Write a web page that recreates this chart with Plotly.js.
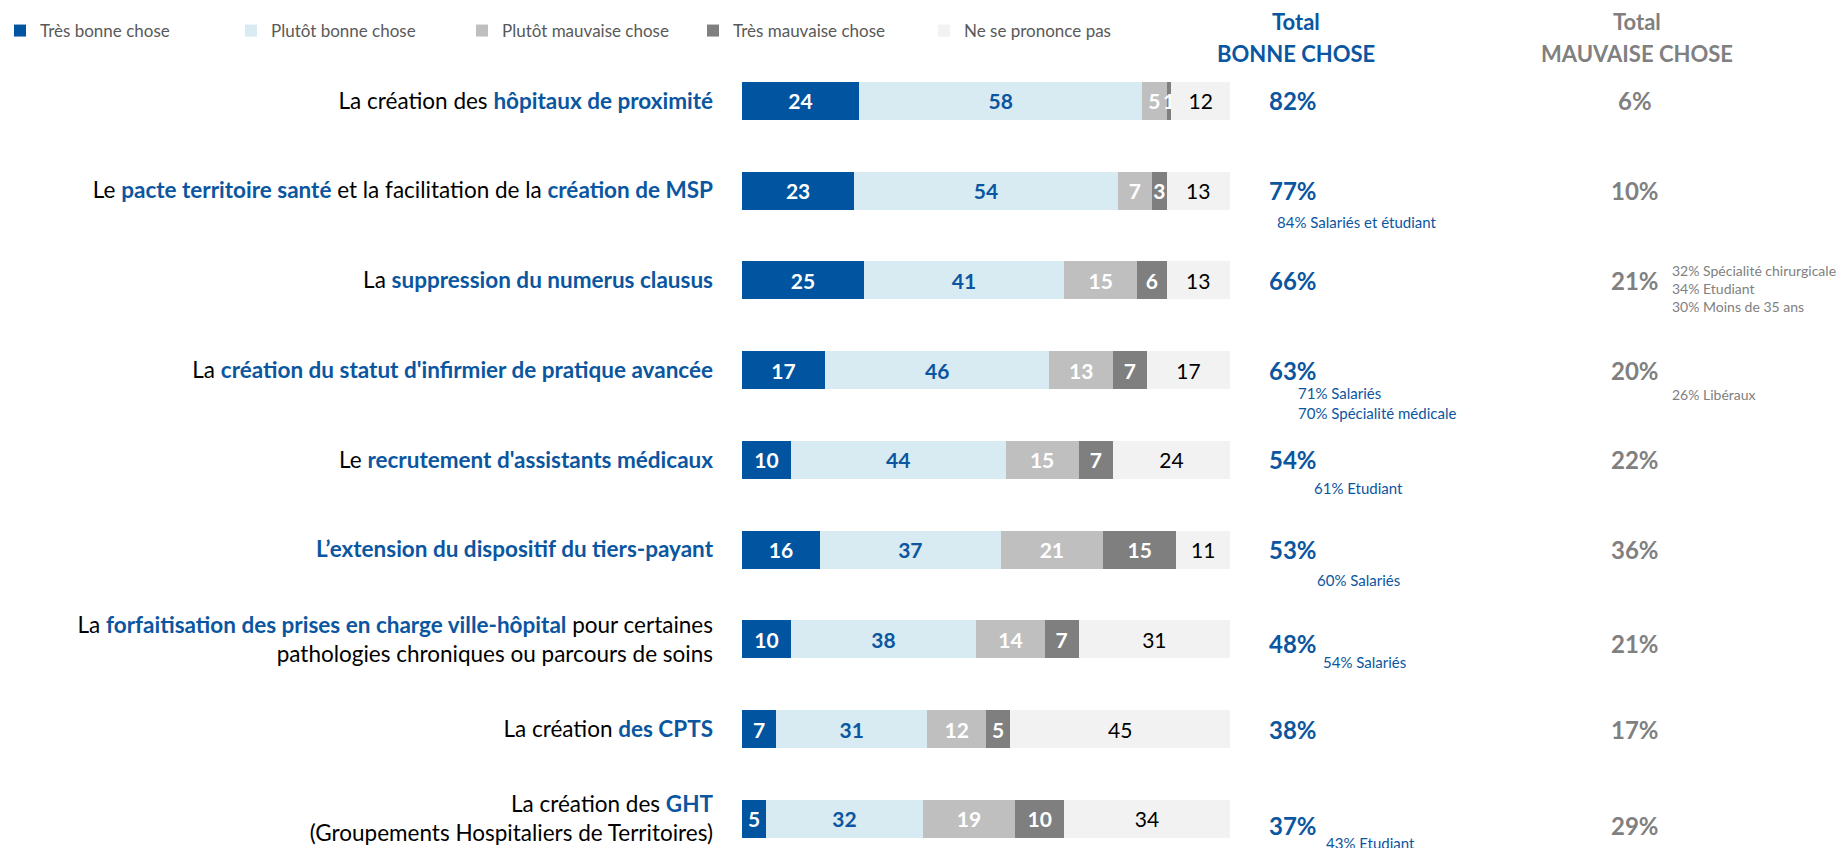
<!DOCTYPE html>
<html>
<head>
<meta charset="utf-8">
<script src="https://cdn.plot.ly/plotly-3.0.1.min.js"></script>
<style>
  html, body { margin: 0; padding: 0; background: #fff; }
  #myDiv { width: 1844px; height: 848px; }
</style>
</head>
<body>
<div id="myDiv"></div>
<script>
const BLUE = '#0B56A0';
const GREY = '#808080';

const categories = [
    'hôpitaux de proximité', 'pacte territoire santé', 'numerus clausus',
    'infirmier de pratique avancée', 'assistants médicaux', 'tiers-payant',
    'forfaitisation', 'CPTS', 'GHT'
];

const b = (s) => `<b><span style="color:${BLUE}">${s}</span></b>`;
const rowLabels = [
    'La création des ' + b('hôpitaux de proximité'),
    'Le ' + b('pacte territoire santé') + ' et la facilitation de la ' + b('création de MSP'),
    'La ' + b('suppression du numerus clausus'),
    'La ' + b("création du statut d'infirmier de pratique avancée"),
    'Le ' + b("recrutement d'assistants médicaux"),
    b('L’extension du dispositif du tiers-payant'),
    'La ' + b('forfaitisation des prises en charge ville-hôpital') + ' pour certaines<br>pathologies chroniques ou parcours de soins',
    'La création ' + b('des CPTS'),
    'La création des ' + b('GHT') + '<br>(Groupements Hospitaliers de Territoires)'
];

const seriesNames = ['Très bonne chose', 'Plutôt bonne chose', 'Plutôt mauvaise chose', 'Très mauvaise chose', 'Ne se prononce pas'];
const tresBonne      = [24, 23, 25, 17, 10, 16, 10, 7, 5];
const plutotBonne    = [58, 54, 41, 46, 44, 37, 38, 31, 32];
const plutotMauvaise = [5, 7, 15, 13, 15, 21, 14, 12, 19];
const tresMauvaise   = [1, 3, 6, 7, 7, 15, 7, 5, 10];
const nsp            = [12, 13, 13, 17, 24, 11, 31, 45, 34];

const totalBonne    = [82, 77, 66, 63, 54, 53, 48, 38, 37];
const totalMauvaise = [6, 10, 21, 20, 22, 36, 21, 17, 29];

const bonneNotes = ['', '84% Salariés et étudiant', '', '71% Salariés<br>70% Spécialité médicale',
    '61% Etudiant', '60% Salariés', '54% Salariés', '', '43% Etudiant'];
const mauvaiseNotes = ['', '', '32% Spécialité chirurgicale<br>34% Etudiant<br>30% Moins de 35 ans',
    '26% Libéraux', '', '', '', '', ''];

// pixel placement of the notes: [left x, y shift from row centre]
const bonneNotePos = {1: [1275, -31], 3: [1296, -33], 4: [1312, -28], 5: [1315, -30], 6: [1321, -23], 8: [1324, -24]};
const mauvaiseNotePos = {2: [1670, -8], 3: [1670, -24]};
// the totals sit a little low on the two-line rows
const totalShift = {6: -4, 8: -7};

const colors = ['#0054A0', '#D8EAF2', '#BFBFBF', '#7F7F7F', '#F2F2F2'];
const textColors = ['#FFFFFF', BLUE, '#FFFFFF', '#FFFFFF', '#000000'];
const values = [tresBonne, plutotBonne, plutotMauvaise, tresMauvaise, nsp];

const FONT = 'Lato, "Open Sans", sans-serif';

// plot area in pixels
const L = 742, R = 1230, T = 56, H = 848;
const px = (x) => (x - L) / (R - L);
const py = (y) => 1 - (y - T) / (H - T);

const getData = () => values.map((vals, i) => ({
    type: 'bar',
    orientation: 'h',
    name: seriesNames[i],
    y: categories,
    x: vals,
    text: vals.map(String),
    textposition: 'inside',
    insidetextanchor: 'middle',
    textangle: 0,
    textfont: {family: FONT, size: 21, color: textColors[i], weight: i === 4 ? 'normal' : 'bold'},
    marker: {color: colors[i], line: {width: 0}},
    hoverinfo: 'skip'
}));

const header = (x, y, text, color) => ({
    xref: 'paper', yref: 'paper', x: px(x), y: py(y), xanchor: 'center', yanchor: 'middle',
    text: '<b>' + text + '</b>', showarrow: false, font: {family: FONT, size: 22, color: color}
});

const getAnnotations = () => {
    const ann = [
        header(1296, 21, 'Total', BLUE),
        header(1296, 54, 'BONNE CHOSE', BLUE),
        header(1637, 21, 'Total', GREY),
        header(1637, 54, 'MAUVAISE CHOSE', GREY)
    ];
    categories.forEach((c, i) => {
        const ys = totalShift[i] || 0;
        ann.push({xref: 'paper', yref: 'y', x: px(1293), y: c, yshift: ys, xanchor: 'center', yanchor: 'middle',
            text: '<b>' + totalBonne[i] + '%</b>',
            showarrow: false, font: {family: FONT, size: 24, color: BLUE}});
        ann.push({xref: 'paper', yref: 'y', x: px(1635), y: c, yshift: ys, xanchor: 'center', yanchor: 'middle',
            text: '<b>' + totalMauvaise[i] + '%</b>',
            showarrow: false, font: {family: FONT, size: 24, color: GREY}});
        if (bonneNotes[i]) {
            const p = bonneNotePos[i];
            ann.push({xref: 'paper', yref: 'y', x: px(p[0]), y: c, yshift: p[1], xanchor: 'left', yanchor: 'middle',
                text: bonneNotes[i], align: 'left', showarrow: false,
                font: {family: FONT, size: 15, color: BLUE}});
        }
        if (mauvaiseNotes[i]) {
            const p = mauvaiseNotePos[i];
            ann.push({xref: 'paper', yref: 'y', x: px(p[0]), y: c, yshift: p[1], xanchor: 'left', yanchor: 'middle',
                text: mauvaiseNotes[i], align: 'left', showarrow: false,
                font: {family: FONT, size: 14, color: GREY}});
        }
    });
    return ann;
};

const getLayout = () => ({
    width: 1844,
    height: 848,
    barmode: 'stack',
    bargap: 0.577,
    margin: {l: L, r: 1844 - R, t: T, b: 0, pad: 0},
    paper_bgcolor: '#fff',
    plot_bgcolor: '#fff',
    font: {family: FONT, color: '#000'},
    showlegend: true,
    legend: {
        orientation: 'h',
        x: px(0), xanchor: 'left',
        y: py(31), yanchor: 'middle',
        font: {family: FONT, size: 17, color: '#595959'},
        entrywidth: 186,
        traceorder: 'normal',
        itemclick: false
    },
    uniformtext: {mode: 'show', minsize: 21},
    xaxis: {range: [0, 100], visible: false, fixedrange: true},
    yaxis: {
        type: 'category',
        range: [8.325, -0.5],
        tickvals: categories,
        ticktext: rowLabels,
        ticks: '',
        showline: false,
        showgrid: false,
        zeroline: false,
        ticklabelstandoff: 28,
        tickfont: {family: FONT, size: 22.5, color: '#000'},
        fixedrange: true
    },
    annotations: getAnnotations()
});

Plotly.newPlot('myDiv', getData(), getLayout(), {displayModeBar: false, staticPlot: true});
</script>
</body>
</html>
